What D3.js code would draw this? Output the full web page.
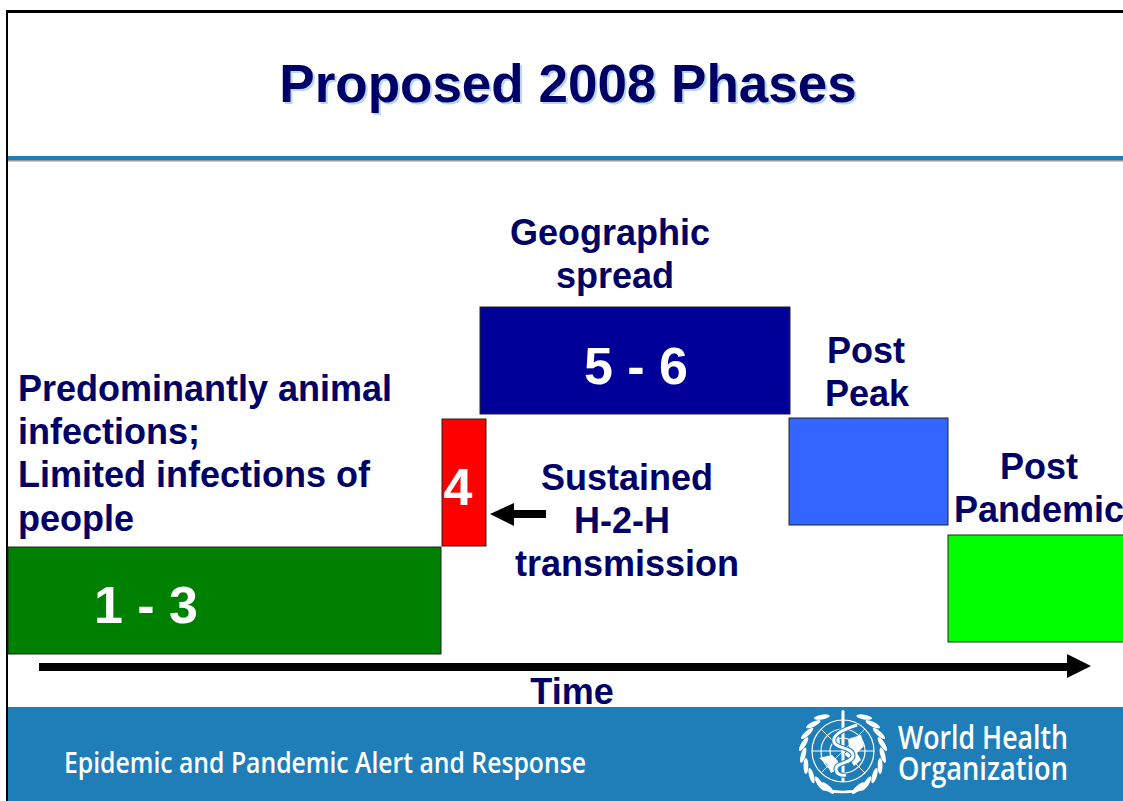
<!DOCTYPE html>
<html>
<head>
<meta charset="utf-8">
<script src="https://cdn.jsdelivr.net/npm/d3@7"></script>
<style>
  html, body { margin: 0; padding: 0; background: #fff; overflow: hidden; }
  svg { display: block; }
</style>
</head>
<body>
<div id="chart"></div>
<script>
// phases. time and level are in arbitrary slide units
const phaseLabels = ["1 - 3", "4", "5 - 6", "", ""];
const phaseColors = ["#008000", "#ff0000", "#000099", "#3366ff", "#00ff00"];
const phaseStart = [0, 43.4, 47.2, 78.1, 94];
const phaseEnd = [43.3, 47.8, 78.2, 94, 111.6];
const phaseLow = [0, 10.8, 24, 12.9, 1.2];
const phaseHigh = [10.7, 23.5, 34.7, 23.6, 11.9];

const titleText = "Proposed 2008 Phases";
const footerText = "Epidemic and Pandemic Alert and Response";
const whoLines = ["World Health", "Organization"];

const width = 1123, height = 801;
const navy = "#000066", blue = "#1f7db8";

const svg = d3.select("#chart").append("svg")
  .attr("width", width)
  .attr("height", height);

const x = d3.scaleLinear().domain([0, 111.5]).range([8, 1123]);
const y = d3.scaleLinear().domain([0, 34.7]).range([654, 307]);

// outer frame of the slide
svg.append("rect").attr("x", 0).attr("y", 0).attr("width", width).attr("height", height).attr("fill", "#fff");
svg.append("rect").attr("x", 6).attr("y", 10).attr("width", 2).attr("height", height).attr("fill", "#000");
svg.append("rect").attr("x", 6).attr("y", 10).attr("width", width).attr("height", 3).attr("fill", "#000");

// title with its pale shadow
svg.append("text").attr("x", 570).attr("y", 104)
  .attr("text-anchor", "middle")
  .style("font", "bold 53px 'Liberation Sans'").attr("fill", "#b5d8f0").text(titleText);
svg.append("text").attr("x", 568).attr("y", 102)
  .attr("text-anchor", "middle")
  .style("font", "bold 53px 'Liberation Sans'").attr("fill", navy).text(titleText);

// rule below the title
svg.append("rect").attr("x", 8).attr("y", 156).attr("width", width).attr("height", 5).attr("fill", blue);
svg.append("rect").attr("x", 8).attr("y", 160).attr("width", width).attr("height", 1.5).attr("fill", "#999");

// phase blocks
const phases = phaseLabels.map((label, i) => ({
  label, color: phaseColors[i], start: phaseStart[i], end: phaseEnd[i], low: phaseLow[i], high: phaseHigh[i]
}));

svg.selectAll(".phase")
  .data(phases)
  .join("rect")
  .attr("class", "phase")
  .attr("x", d => x(d.start))
  .attr("y", d => y(d.high))
  .attr("width", d => x(d.end) - x(d.start))
  .attr("height", d => y(d.low) - y(d.high))
  .attr("fill", d => d.color)
  .attr("stroke", "#222")
  .attr("stroke-width", 1);

// labels in the blocks
const labelPos = [[146, 623], [458, 505], [636, 384]];
phases.slice(0, 3).forEach((d, i) => {
  svg.append("text")
    .attr("x", labelPos[i][0]).attr("y", labelPos[i][1])
    .attr("text-anchor", "middle")
    .style("font", "bold 52px 'Liberation Sans'")
    .attr("fill", "#fff")
    .text(d.label);
});

// annotations around the blocks
const notes = [
  { x: 18, y: 401, anchor: "start", lines: ["Predominantly animal", "infections;", "Limited infections of", "people"] },
  { x: 610, y: 245, anchor: "middle", lines: ["Geographic"] },
  { x: 615, y: 288, anchor: "middle", lines: ["spread"] },
  { x: 627, y: 490, anchor: "middle", lines: ["Sustained"] },
  { x: 622, y: 533, anchor: "middle", lines: ["H-2-H"] },
  { x: 627, y: 576, anchor: "middle", lines: ["transmission"] },
  { x: 866, y: 363, anchor: "middle", lines: ["Post"] },
  { x: 867, y: 406, anchor: "middle", lines: ["Peak"] },
  { x: 1039, y: 479, anchor: "middle", lines: ["Post", "Pandemic"] }
];
notes.forEach(n => {
  n.lines.forEach((line, i) => {
    svg.append("text")
      .attr("x", n.x).attr("y", n.y + i * 43.2)
      .attr("text-anchor", n.anchor)
      .style("font", "bold 36px 'Liberation Sans'")
      .attr("fill", navy)
      .text(line);
  });
});

// small arrow pointing at phase 4
svg.append("path")
  .attr("d", "M490,514 L514,503 L514,510 L546,510 L546,518 L514,518 L514,526 Z")
  .attr("fill", "#000");

// time arrow
svg.append("path")
  .attr("d", "M39,663 L1067,663 L1067,654 L1091,666 L1067,678 L1067,671 L39,671 Z")
  .attr("fill", "#000");
svg.append("text").attr("x", 572).attr("y", 704)
  .attr("text-anchor", "middle")
  .style("font", "bold 36px 'Liberation Sans'")
  .attr("fill", navy).text("Time");

// footer band
svg.append("rect").attr("x", 8).attr("y", 707).attr("width", width).attr("height", 94).attr("fill", blue);
svg.append("text").attr("x", 64).attr("y", 773)
  .attr("textLength", 522).attr("lengthAdjust", "spacingAndGlyphs")
  .style("font", "600 29px 'Open Sans'")
  .attr("fill", "#fff").text(footerText);

// the two lines sit as tight as on the slide
whoLines.forEach((line, i) => {
  svg.append("text").attr("x", 898).attr("y", 749 + i * 31)
    .attr("textLength", 170).attr("lengthAdjust", "spacingAndGlyphs")
    .style("font", "600 33px 'Open Sans'")
    .attr("fill", "#fff").text(line);
});

// WHO emblem
const logo = svg.append("g").attr("transform", "translate(843,751)");
const white = "#fff";

[31, 22, 13].forEach(r => {
  logo.append("circle").attr("r", r).attr("fill", "none").attr("stroke", white).attr("stroke-width", 1.2);
});
logo.append("path").attr("d", "M-31,0 H31 M-22,-22 L22,22 M22,-22 L-22,22").attr("stroke", white).attr("stroke-width", 1).attr("fill", "none");

// land masses, rough outlines
logo.append("path")
  .attr("d", "M-24,7 L-11,4 L-5,10 L-7,19 L-12,22 L-16,13 Z M5,-12 L18,-16 L21,-5 L14,2 L18,9 L11,15 L7,8 L2,4 L6,-4 Z M-11,-11 L-4,-15 L-3,-7 L-9,-5 Z")
  .attr("fill", white);

// staff and snake
logo.append("rect").attr("x", -1.5).attr("y", -41).attr("width", 3).attr("height", 72).attr("rx", 1.5).attr("fill", white);
logo.append("path")
  .attr("d", "M14,-26 C2,-22 -11,-17 -9,-9 C-7,-2 9,-4 10,4 C11,12 -7,11 -7,18 C-7,23 -2,25 3,24")
  .attr("fill", "none").attr("stroke", blue).attr("stroke-width", 5);
logo.append("path")
  .attr("d", "M14,-26 C2,-22 -11,-17 -9,-9 C-7,-2 9,-4 10,4 C11,12 -7,11 -7,18 C-7,23 -2,25 3,24")
  .attr("fill", "none").attr("stroke", white).attr("stroke-width", 3);

// laurel leaves, one side mirrored to the other
const leafAngles = [32, 48, 64, 80, 96, 112, 128, 144, 158];
[1, -1].forEach(side => {
  const wreath = logo.append("g").attr("transform", `scale(${side},1)`);
  leafAngles.forEach(a => {
    const rad = (a - 90) * Math.PI / 180;
    wreath.append("ellipse")
      .attr("rx", 2.4)
      .attr("ry", 8)
      .attr("transform", `translate(${40 * Math.cos(rad)},${40 * Math.sin(rad)}) rotate(${a + 68})`)
      .attr("fill", white);
  });
});
logo.append("path").attr("d", "M-20,38 Q0,44 20,38").attr("fill", "none").attr("stroke", white).attr("stroke-width", 2.5);
</script>
</body>
</html>
